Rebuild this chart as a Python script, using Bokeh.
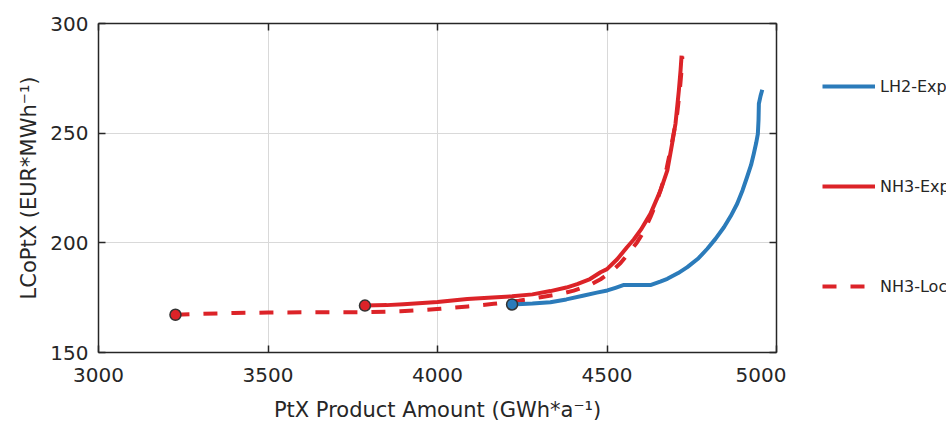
from bokeh.plotting import figure
from bokeh.layouts import row
from bokeh.models import Legend, LegendItem, LinearAxis, FixedTicker, Range1d, CustomJSTickFormatter
from bokeh.embed import file_html
from bokeh.resources import INLINE

# ---- data ----
lh2_export_x = [4220, 4280, 4333, 4380, 4432, 4470, 4501, 4525, 4550, 4590, 4630, 4657,
                4678, 4710, 4737, 4770, 4796, 4820, 4845, 4865, 4884, 4900, 4913, 4925,
                4933, 4940, 4945, 4947, 4948, 4953, 4958]
lh2_export_y = [171.9, 172.3, 172.9, 174.2, 176.0, 177.3, 178.3, 179.5, 180.8, 180.8, 180.8, 182.3,
                183.6, 186.2, 188.9, 193.0, 197.3, 201.8, 207.1, 212.2, 217.8, 224.0, 229.9, 235.5,
                240.6, 245.5, 249.7, 256.0, 263.4, 267.0, 269.8]

nh3_export_x = [3786, 3850, 3900, 4000, 4088, 4150, 4220, 4280, 4333, 4380, 4412, 4450, 4481,
                4500, 4530, 4559, 4579, 4600, 4628, 4658, 4678, 4692, 4702, 4712, 4717, 4720]
nh3_export_y = [171.4, 171.6, 172.0, 173.0, 174.4, 175.0, 175.6, 176.5, 178.0, 179.6, 181.2, 183.5, 186.6,
                188.0, 192.5, 198.0, 201.5, 206.0, 213.2, 223.9, 233.0, 245.1, 254.3, 269.5, 278.6, 285.4]

nh3_local_x = [3227, 3300, 3400, 3500, 3600, 3700, 3800, 3891, 3950, 4009, 4090, 4166, 4240,
               4304, 4360, 4402, 4450, 4481, 4510, 4540, 4565, 4589, 4610, 4628, 4646, 4663,
               4676, 4687, 4698, 4707, 4715, 4722, 4722]
nh3_local_y = [167.2, 167.6, 168.0, 168.2, 168.3, 168.4, 168.4, 168.8, 169.3, 169.9, 171.0, 172.2, 173.6,
               175.2, 176.6, 178.2, 180.8, 183.4, 186.5, 190.8, 195.5, 200.3, 205.5, 211.7, 218.5, 226.5,
               234.0, 242.1, 251.0, 258.8, 270.0, 282.4, 285.0]

start_x = [3227, 3786, 4220]
start_y = [167.2, 171.4, 171.9]
start_colors = ["#dc2328", "#dc2328", "#2b7bba"]

x_ticks = [3000, 3500, 4000, 4500, 5000]
y_ticks = [150, 200, 250, 300]

series_labels = ["LH2-Export", "NH3-Export", "NH3-Local"]

BLUE = "#2b7bba"
RED = "#dc2328"
AX = "#262626"
FONT = "DejaVu Sans"
DASH = "14 14"

p = figure(frame_width=678, frame_height=329,
           x_range=Range1d(3000, 5000), y_range=Range1d(150, 300),
           output_backend="svg", toolbar_location=None,
           min_border_left=98, min_border_right=10, min_border_top=23, min_border_bottom=71,
           background_fill_color="white", border_fill_color="white")
p.outline_line_color = None

# extra axes (no labels) to close the box with inward ticks
p.add_layout(LinearAxis(formatter=CustomJSTickFormatter(code="return ''")), "above")
p.add_layout(LinearAxis(formatter=CustomJSTickFormatter(code="return ''")), "right")

for ax in p.xaxis:
    ax.ticker = FixedTicker(ticks=x_ticks)
for ax in p.yaxis:
    ax.ticker = FixedTicker(ticks=y_ticks)

for ax in p.axis:
    ax.axis_line_color = AX
    ax.axis_line_width = 1.5
    ax.major_tick_line_color = AX
    ax.major_tick_line_width = 1.5
    ax.major_tick_in = 7
    ax.major_tick_out = 0
    ax.minor_tick_line_color = None
    ax.major_label_text_font = FONT
    ax.major_label_text_font_size = "20px"
    ax.major_label_text_color = AX
    ax.axis_label_text_font = FONT
    ax.axis_label_text_font_size = "21px"
    ax.axis_label_text_font_style = "normal"
    ax.axis_label_text_color = AX

for ax in (p.above[0], p.right[0]):
    ax.major_label_standoff = 0

p.below[0].axis_label = "PtX Product Amount (GWh*a\u207b\u00b9)"
p.left[0].axis_label = "LCoPtX (EUR*MWh\u207b\u00b9)"
p.below[0].major_label_standoff = 15
p.left[0].major_label_standoff = 10
p.below[0].axis_label_standoff = 13
p.left[0].axis_label_standoff = 6

p.xgrid.ticker = FixedTicker(ticks=x_ticks)
p.ygrid.ticker = FixedTicker(ticks=y_ticks)
p.grid.grid_line_color = "#d9d9d9"
p.grid.grid_line_width = 1

p.line(nh3_local_x, nh3_local_y, line_color=RED, line_width=4, line_dash=DASH, line_join="round")
p.line(nh3_export_x, nh3_export_y, line_color=RED, line_width=4, line_join="round")
p.line(lh2_export_x, lh2_export_y, line_color=BLUE, line_width=4, line_join="round")
p.scatter(start_x, start_y, size=11, fill_color=start_colors, line_color="#333333", line_width=1.5)

# ---- legend panel to the right (clipped by the window edge like the reference) ----
leg = figure(width=160, height=423, x_range=Range1d(0, 1), y_range=Range1d(0, 1),
             output_backend="svg", toolbar_location=None,
             x_axis_type=None, y_axis_type=None,
             min_border_left=0, min_border_right=0, min_border_top=0, min_border_bottom=0,
             background_fill_color="white", border_fill_color="white")
leg.outline_line_color = None
leg.grid.visible = False
# legend-only renderers, their points lie outside the visible range
g_lh2 = leg.line(x=[-5, -4], y=[-5, -4], line_color=BLUE, line_width=4)
g_exp = leg.line(x=[-5, -4], y=[-5, -4], line_color=RED, line_width=4)
g_loc = leg.line(x=[-5, -4], y=[-5, -4], line_color=RED, line_width=4, line_dash=DASH)

legend = Legend(items=[LegendItem(label=series_labels[0], renderers=[g_lh2]),
                       LegendItem(label=series_labels[1], renderers=[g_exp]),
                       LegendItem(label=series_labels[2], renderers=[g_loc])],
                location=(36, 55), orientation="vertical",
                glyph_width=53, glyph_height=20, label_height=20, spacing=80,
                padding=0, margin=0, label_standoff=5,
                label_text_font=FONT, label_text_font_size="16px", label_text_color=AX,
                border_line_alpha=0, background_fill_alpha=0)
leg.add_layout(legend, "center")

layout = row(p, leg, spacing=0)
open("out.html", "w").write(file_html(layout, INLINE))
